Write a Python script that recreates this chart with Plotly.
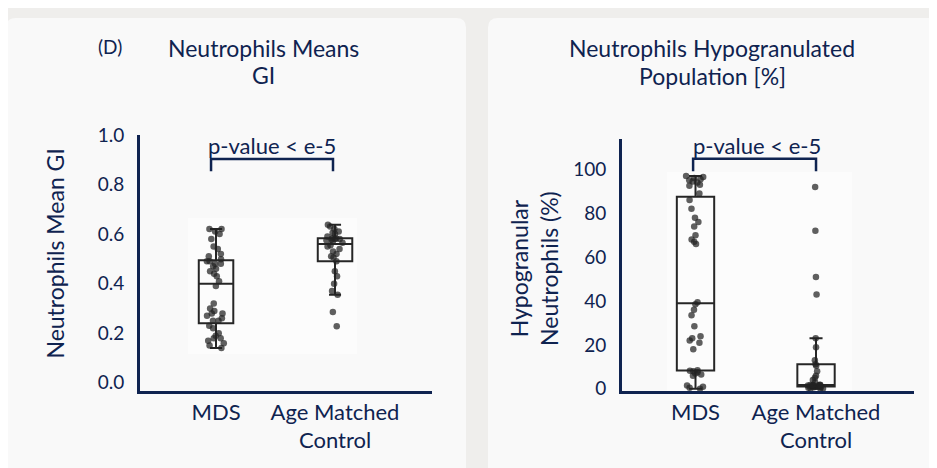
import plotly.graph_objects as go

# ---------------- data ----------------
categories = ["MDS", "Age Matched<br>Control"]

gi_mds = [0.14, 0.15, 0.16, 0.17, 0.18, 0.18, 0.19, 0.20, 0.22, 0.23,
          0.25, 0.25, 0.26, 0.27, 0.28, 0.28, 0.29, 0.30, 0.32, 0.39,
          0.41, 0.43, 0.44, 0.45, 0.46, 0.47, 0.48, 0.48, 0.49, 0.49,
          0.498, 0.51, 0.52, 0.54, 0.55, 0.58, 0.60, 0.61, 0.62, 0.62]
gi_ctrl = [0.228, 0.286, 0.355, 0.37, 0.40, 0.43, 0.45, 0.49, 0.505, 0.51,
           0.52, 0.53, 0.54, 0.55, 0.555, 0.565, 0.57, 0.575, 0.578, 0.58,
           0.58, 0.582, 0.583, 0.59, 0.60, 0.605, 0.61, 0.62, 0.63, 0.637]

hypo_mds = [0, 0.5, 1, 1.5, 6, 6.5, 7, 7.5, 8, 8.2,
            8.5, 18, 21, 22, 23, 24, 28.5, 33.5, 36, 38.5,
            39.5, 66, 67, 68, 70, 74, 76, 78, 82, 86,
            89, 92.5, 93, 94, 94.5, 95, 95.5, 96, 96.5, 97]
hypo_ctrl = [0, 0, 0.2, 0.5, 0.7, 0.9, 1.0, 1.1, 1.25, 1.5,
             1.6, 1.6, 1.7, 1.7, 1.75, 1.85, 3, 4, 5, 6,
             8, 10.5, 11.2, 13, 19, 23, 43, 51, 72, 92]

gi_ticks = [0.0, 0.2, 0.4, 0.6, 0.8, 1.0]
gi_ticktext = ["0.0", "0.2", "0.4", "0.6", "0.8", "1.0"]
hypo_ticks = [0, 20, 40, 60, 80, 100]
hypo_ticktext = ["0", "20", "40", "60", "80", "100"]

pvalue_text = "p-value < e-5"

# ---------------- style ----------------
W, H = 937, 468
OFF = 8  # page body margin in the browser
NAVY = "#0f2350"
FONT = "Lato"
BG = "#efeeec"
CARD = "#f9f9f9"


def px(x):
    return (x - OFF) / W


def py(y):
    return 1 - (y - OFF) / H


fig = go.Figure()

box_style = dict(
    boxpoints="all", jitter=0.6, pointpos=0,
    fillcolor="rgba(0,0,0,0)",
    line=dict(color="#262626", width=2),
    marker=dict(color="rgba(35,35,35,0.72)", size=6.5),
    whiskerwidth=0.35,
    showlegend=False,
)

fig.add_trace(go.Box(y=gi_mds, x0=0, width=0.29, xaxis="x", yaxis="y", name="MDS", **box_style))
fig.add_trace(go.Box(y=gi_ctrl, x0=1, width=0.29, xaxis="x", yaxis="y", name="Age Matched Control", **box_style))
fig.add_trace(go.Box(y=hypo_mds, x0=0, width=0.31, xaxis="x2", yaxis="y2", name="MDS", **box_style))
fig.add_trace(go.Box(y=hypo_ctrl, x0=1, width=0.31, xaxis="x2", yaxis="y2", name="Age Matched Control", **box_style))

xaxis_common = dict(
    showline=True, linecolor=NAVY, linewidth=3, showgrid=False, zeroline=False,
    tickmode="array", tickvals=[0, 1], ticktext=categories,
    ticks="", ticklabelstandoff=-1,
    tickfont=dict(family=FONT, size=22, color=NAVY),
    fixedrange=True,
)
yaxis_common = dict(
    showline=True, linecolor=NAVY, linewidth=3, showgrid=False, zeroline=False,
    ticks="outside", ticklen=9, tickcolor="rgba(0,0,0,0)",
    tickfont=dict(family=FONT, size=19, color=NAVY), tickmode="array", fixedrange=True,
)

fig.update_layout(
    width=W, height=H,
    margin=dict(l=0, r=0, t=0, b=0),
    paper_bgcolor=BG,
    plot_bgcolor="rgba(0,0,0,0)",
    font=dict(family=FONT, color=NAVY),
    xaxis=dict(domain=[px(140), px(432)], range=[-0.639, 1.815], anchor="y", **xaxis_common),
    yaxis=dict(domain=[py(396), py(128)], range=[-0.0347, 1.0], anchor="x",
               tickvals=gi_ticks, ticktext=gi_ticktext, **yaxis_common),
    xaxis2=dict(domain=[px(622), px(914)], range=[-0.61, 1.813], anchor="y2", **xaxis_common),
    yaxis2=dict(domain=[py(396), py(132)], range=[-1.18, 113.96], anchor="x2",
                tickvals=hypo_ticks, ticktext=hypo_ticktext, **yaxis_common),
)


def card_path(x0, x1, y0, y1, r=10):
    rx, ry = r / W, r / H
    X0, X1, YT, YB = px(x0), px(x1), py(y0), py(y1)
    return (f"M {X0+rx},{YT} L {X1-rx},{YT} Q {X1},{YT} {X1},{YT-ry} "
            f"L {X1},{YB} L {X0},{YB} L {X0},{YT-ry} Q {X0},{YT} {X0+rx},{YT} Z")


shapes = [
    dict(type="path", xref="paper", yref="paper", path=card_path(6, 466, 6, 520),
         fillcolor=CARD, line=dict(width=0), layer="below"),
    dict(type="path", xref="paper", yref="paper", path=card_path(488, 980, 6, 520),
         fillcolor=CARD, line=dict(width=0), layer="below"),
    dict(type="rect", xref="paper", yref="paper", x0=px(188), x1=px(357), y0=py(357), y1=py(215),
         fillcolor="#fcfcfc", line=dict(width=0), layer="below"),
    dict(type="rect", xref="paper", yref="paper", x0=px(667), x1=px(852), y0=py(397), y1=py(167),
         fillcolor="#fcfcfc", line=dict(width=0), layer="below"),
]

# significance brackets
br_line = dict(color=NAVY, width=2.5)
shapes.append(dict(type="path", xref="x", yref="y",
                   path="M -0.042,0.853 L -0.042,0.903 L 0.983,0.903 L 0.983,0.853",
                   line=br_line))
shapes.append(dict(type="path", xref="x2", yref="y2",
                   path="M -0.02,99.1 L -0.02,104.8 L 1.0,104.8 L 1.0,99.1",
                   line=br_line))
fig.update_layout(shapes=shapes)


def note(text, x, y, size, xref="paper", yref="paper", angle=0):
    return dict(text=text, xref=xref, yref=yref, x=x, y=y, showarrow=False,
                xanchor="center", yanchor="middle", textangle=angle,
                font=dict(family=FONT, size=size, color=NAVY))


ann = [
    note(pvalue_text, 0.47, 0.957, 22, "x", "y"),
    note(pvalue_text, 0.51, 110.9, 22, "x2", "y2"),
    note("Neutrophils Means", px(263), py(37), 23),
    note("GI", px(263), py(65), 23),
    note("(D)", px(110), py(36), 19),
    note("Neutrophils Hypogranulated", px(712), py(37), 23),
    note("Population [%]", px(712), py(66), 23),
    note("Neutrophils Mean GI", px(55), py(252), 23, angle=-90),
    note("Hypogranular<br>Neutrophils (%)", px(534), py(268), 23, angle=-90),
]
fig.update_layout(annotations=ann)

fig.write_html("out.html")
